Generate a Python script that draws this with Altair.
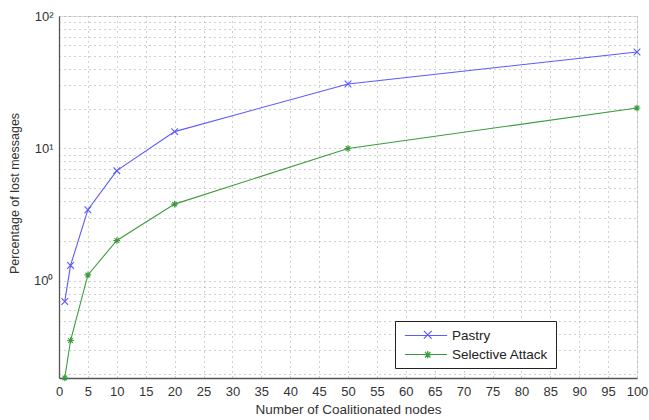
import altair as alt
import pandas as pd

nodes = [1, 2, 5, 10, 20, 50, 100]
pastry = [0.70, 1.31, 3.45, 6.8, 13.4, 30.7, 53.5]
selective = [0.185, 0.355, 1.11, 2.02, 3.8, 10.0, 20.2]
series_names = ["Pastry", "Selective Attack"]
x_ticks = list(range(0, 101, 5))
y_ticks = [0.2, 0.3, 0.4, 0.5, 0.6, 0.7, 0.8, 0.9,
           1, 2, 3, 4, 5, 6, 7, 8, 9,
           10, 20, 30, 40, 50, 60, 70, 80, 90, 100]

rows = []
for n, v in zip(nodes, pastry):
    rows.append({"nodes": n, "pct": v, "series": series_names[0]})
for n, v in zip(nodes, selective):
    rows.append({"nodes": n, "pct": v, "series": series_names[1]})
df = pd.DataFrame(rows)
df["series_l"] = df["series"]

FONT = "Liberation Sans"
colors = ["#5a5aff", "#3c9c3c"]
x_path = "M-1,-1L1,1M-1,1L1,-1"
ast_path = "M-1,0L1,0M0,-1L0,1M-0.7,-0.7L0.7,0.7M-0.7,0.7L0.7,-0.7"
line_path = "M-3.25,0L3.25,0"

x_enc = alt.X(
    "nodes:Q",
    scale=alt.Scale(domain=[0, 100], nice=False),
    axis=alt.Axis(
        values=x_ticks, title="Number of Coalitionated nodes",
        grid=True, gridDash=[1, 4], gridColor="#a0a0a0", gridWidth=1,
        ticks=False, labelPadding=7, labelFontSize=13, labelFont=FONT,
        labelColor="#333", domainColor="#555", domainWidth=1.3,
        titleFont=FONT, titleFontSize=13.5, titleFontWeight="normal", titleColor="#333",
        titleY=31, titleBaseline="middle", labelOverlap=False, labelFlush=False,
        labelBound=False,
    ),
)
y_enc = alt.Y(
    "pct:Q",
    scale=alt.Scale(type="log", domain=[0.185, 100], nice=False),
    axis=alt.Axis(
        values=y_ticks, title="Percentage of lost messages",
        labelExpr="datum.value == 1 ? '10⁰' : datum.value == 10 ? '10¹' : datum.value == 100 ? '10²' : ''",
        grid=True, gridDash=[1, 4], gridColor="#a0a0a0", gridWidth=1,
        ticks=False, labelPadding=6, labelFontSize=13, labelFont=FONT,
        labelColor="#333", domainColor="#555", domainWidth=1.3,
        labelOverlap=False, labelBound=False, labelFlush=False,
        titleFont=FONT, titleFontSize=12.5, titleFontWeight="normal", titleColor="#333",
        titleX=-45, titleY=177, titleAngle=-90, titleAlign="center", titleBaseline="middle",
    ),
)

color_scale = alt.Scale(domain=series_names, range=colors)
shape_scale = alt.Scale(domain=series_names, range=[x_path, ast_path])

line_legend = alt.Legend(
    title=None, orient="none", legendX=336, legendY=305,
    strokeColor="#222", fillColor="white", padding=7, rowPadding=5,
    labelFont=FONT, labelFontSize=13.5, labelColor="#222",
    symbolType=line_path, symbolStrokeWidth=1.2, symbolSize=169,
    symbolOffset=16.5, labelOffset=18.5,
)

def marker_legend():
    return alt.Legend(
        title=None, orient="none", legendX=336, legendY=305,
        padding=7, rowPadding=5,
        labelFont=FONT, labelFontSize=13.5, labelColor="#222", labelExpr="''",
        symbolStrokeWidth=1.2, symbolSize=60, symbolOffset=19, labelOffset=4,
    )

lines = alt.Chart(df).mark_line(strokeWidth=1.1).encode(
    x=x_enc, y=y_enc,
    stroke=alt.Stroke("series_l:N", scale=alt.Scale(range=colors), legend=line_legend),
    detail="series_l:N",
)

points = alt.Chart(df).mark_point(size=45, filled=False, strokeWidth=1.1, opacity=1).encode(
    x=x_enc, y=y_enc,
    color=alt.Color("series:N", scale=color_scale, legend=marker_legend()),
    shape=alt.Shape("series:N", scale=shape_scale, legend=marker_legend()),
)

chart = alt.layer(lines, points).properties(
    width=578, height=362,
    autosize=alt.AutoSizeParams(type="none"),
    padding={"left": 59, "top": 16, "right": 12, "bottom": 42},
).configure_view(stroke="#555", strokeWidth=1.3).configure(background="white")

chart.save("out.html", embed_options={"renderer": "svg", "actions": False})
